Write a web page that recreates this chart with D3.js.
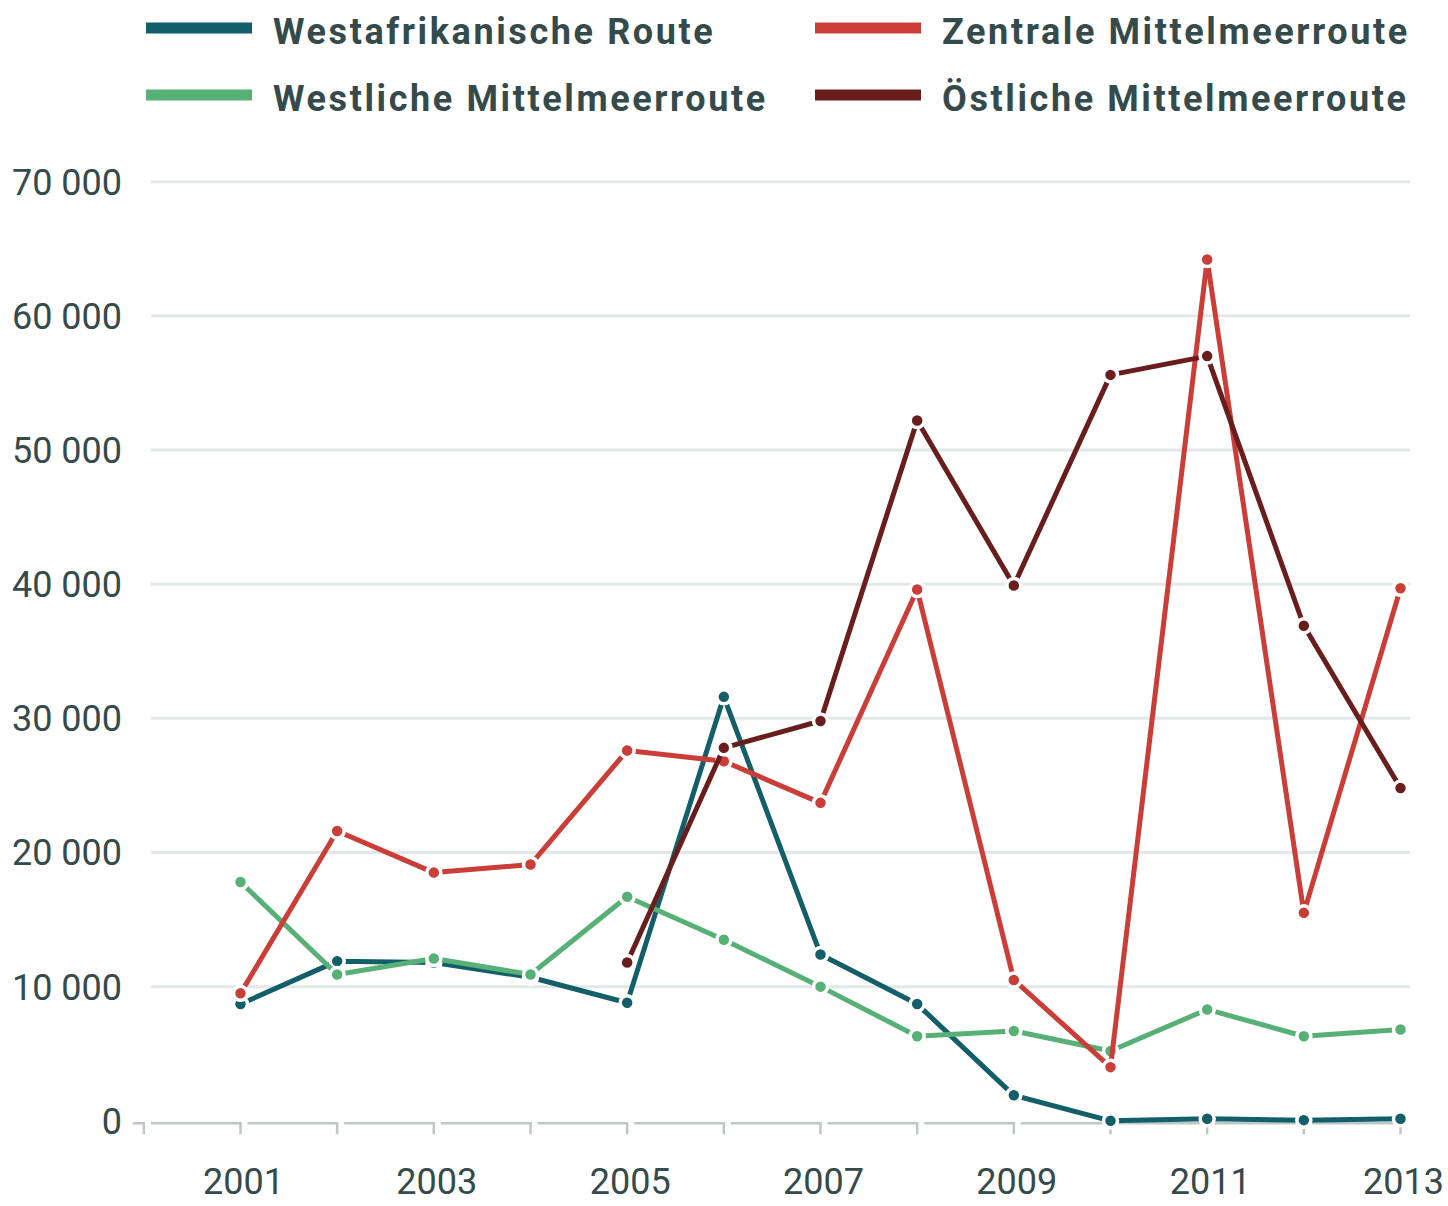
<!DOCTYPE html>
<html>
<head>
<meta charset="utf-8">
<script src="https://cdn.jsdelivr.net/npm/d3@7"></script>
<style>
  body { margin: 0; background: #fff; }
  svg { display: block; font-family: Roboto, "Noto Sans", sans-serif; }
</style>
</head>
<body>
<div id="chart"></div>
<script>
// data
var years = [2001, 2002, 2003, 2004, 2005, 2006, 2007, 2008, 2009, 2010, 2011, 2012, 2013];
var westafrika = [8700, 11900, 11800, 10700, 8800, 31600, 12400, 8700, 1900, 0, 150, 50, 150];
var westlich = [17800, 10900, 12100, 10900, 16700, 13500, 10000, 6300, 6700, 5200, 8300, 6300, 6800];
var zentral = [9500, 21600, 18500, 19100, 27600, 26800, 23700, 39600, 10500, 4000, 64200, 15500, 39700];
var oestlich = [null, null, null, null, 11800, 27800, 29800, 52200, 39900, 55600, 57000, 36900, 24800];
var yTicks = [0, 10000, 20000, 30000, 40000, 50000, 60000, 70000];
var xLabels = [2001, 2003, 2005, 2007, 2009, 2011, 2013];

// draw order: teal, green, red, dark red
var series = [
  {name: "Westafrikanische Route", values: westafrika, color: "#135f69"},
  {name: "Westliche Mittelmeerroute", values: westlich, color: "#57b177"},
  {name: "Zentrale Mittelmeerroute", values: zentral, color: "#cb3e37"},
  {name: "Östliche Mittelmeerroute", values: oestlich, color: "#691d1d"}
];
var legendOrder = [0, 2, 1, 3];

var width = 1448, height = 1206;
var textColor = "#354a4b";

var svg = d3.select("#chart").append("svg")
    .attr("width", width)
    .attr("height", height);

var x = d3.scaleLinear().domain([2001, 2013]).range([240.5, 1400.5]);
var y = d3.scaleLinear().domain([0, 70000]).range([1120.8, 181.7]);

// gridlines
svg.append("g").selectAll("line")
  .data(yTicks.filter(function(d) { return d > 0; }))
  .enter().append("line")
    .attr("x1", 151).attr("x2", 1410)
    .attr("y1", function(d) { return y(d); })
    .attr("y2", function(d) { return y(d); })
    .attr("stroke", "#e2e7e7")
    .attr("stroke-width", 3);

// y labels
var fmt = function(d) { return d3.format(",")(d).replace(/,/g, " "); };
svg.append("g").selectAll("text")
  .data(yTicks)
  .enter().append("text")
    .attr("x", 122)
    .attr("y", function(d) { return y(d); })
    .attr("dy", "0.36em")
    .attr("text-anchor", "end")
    .attr("fill", textColor)
    .style("font-size", "36px")
    .text(fmt);

// x axis: split segments with a small gap after each tick
var axisY = y(0) + 2.5;
var tickYears = [2000].concat(years);
svg.append("g").selectAll("path")
  .data(tickYears)
  .enter().append("path")
    .attr("d", function(d, i) {
      var xe = x(d);
      var xs = i == 0 ? xe - 11 : x(tickYears[i - 1]) + 7;
      return "M" + xs + "," + axisY + "H" + xe + "V" + (axisY + 11);
    })
    .attr("fill", "none")
    .attr("stroke", "#bec7c7")
    .attr("stroke-width", 2.5);

svg.append("g").selectAll("text")
  .data(xLabels)
  .enter().append("text")
    .attr("x", function(d) { return x(d) + 3; })
    .attr("y", 1194)
    .attr("text-anchor", "middle")
    .attr("fill", textColor)
    .style("font-size", "36px")
    .text(function(d) { return d; });

// lines and points
var line = d3.line()
    .defined(function(d) { return d != null; })
    .x(function(d, i) { return x(years[i]); })
    .y(function(d) { return y(d); });

series.forEach(function(s) {
  var g = svg.append("g");
  g.append("path")
    .attr("d", line(s.values))
    .attr("fill", "none")
    .attr("stroke", s.color)
    .attr("stroke-width", 5)
    .attr("stroke-linejoin", "round");
  g.selectAll("circle")
    .data(s.values.map(function(v, i) { return {year: years[i], v: v}; })
      .filter(function(d) { return d.v != null; }))
    .enter().append("circle")
      .attr("cx", function(d) { return x(d.year); })
      .attr("cy", function(d) { return y(d.v); })
      .attr("r", 7)
      .attr("fill", s.color)
      .attr("stroke", "#fff")
      .attr("stroke-width", 3.5);
});

// legend
var legendX = [146, 815], legendY = [28, 95];
var legend = svg.append("g").selectAll("g")
  .data(legendOrder)
  .enter().append("g")
    .attr("transform", function(d, i) {
      return "translate(" + legendX[i % 2] + "," + legendY[Math.floor(i / 2)] + ")";
    });
legend.append("line")
  .attr("x1", 0).attr("x2", 106)
  .attr("stroke", function(d) { return series[d].color; })
  .attr("stroke-width", 11);
legend.append("text")
  .attr("x", 127)
  .attr("y", 16)
  .attr("fill", textColor)
  .style("font-size", "36px")
  .style("font-weight", "700")
  .style("letter-spacing", "2.6px")
  .text(function(d) { return series[d].name; });
</script>
</body>
</html>
